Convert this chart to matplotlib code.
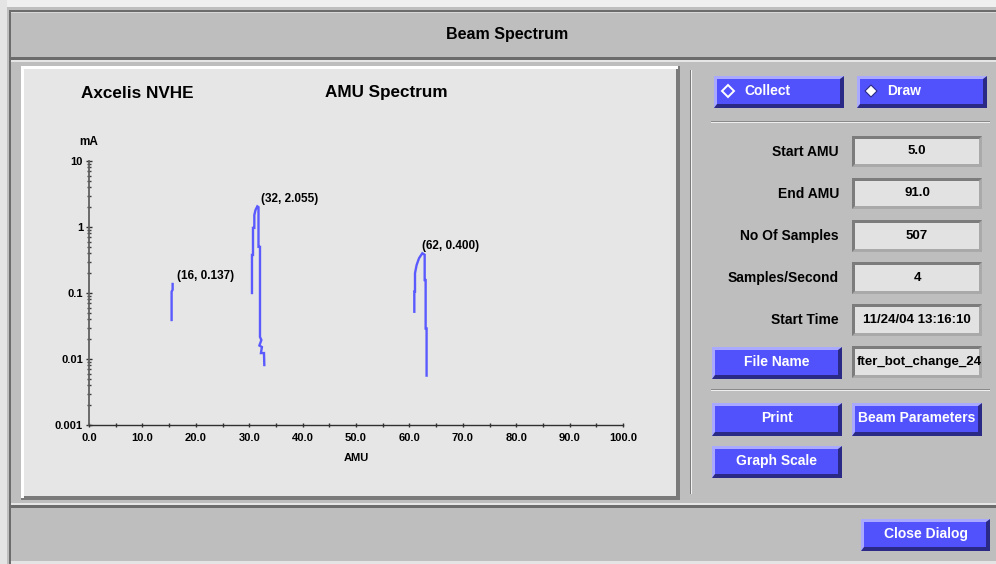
import matplotlib
matplotlib.use("Agg")
import matplotlib.pyplot as plt
from matplotlib.patches import Rectangle, Polygon
from matplotlib.ticker import FixedLocator, FixedFormatter, NullFormatter

plt.rcParams['font.family'] = ['Liberation Sans', 'DejaVu Sans']
plt.rcParams['font.weight'] = 'bold'

# ---------------- data ----------------
peak16_amu = [15.47, 15.47, 15.66, 15.66]
peak16_ma = [0.039, 0.105, 0.112, 0.137]

peak32_amu = [30.52, 30.52, 30.71, 30.71, 30.96, 30.96, 31.18, 31.52, 31.74, 31.74,
              32.02, 32.02, 32.28, 31.91, 32.38, 32.20, 32.77, 32.83]
peak32_ma = [0.100, 0.377, 0.377, 0.970, 0.970, 1.52, 1.81, 2.055, 2.00, 0.50,
             0.50, 0.0216, 0.0194, 0.0160, 0.0152, 0.0123, 0.0123, 0.0081]

peak62_amu = [60.92, 60.92, 61.05, 61.05, 61.35, 61.80, 62.42, 62.86, 62.86, 63.04, 63.04, 63.22, 63.22]
peak62_ma = [0.052, 0.105, 0.105, 0.200, 0.265, 0.336, 0.400, 0.380, 0.157, 0.157, 0.029, 0.029, 0.0056]

peak_labels = ["(16, 0.137)", "(32, 2.055)", "(62, 0.400)"]
peak_label_pos = [(15.66, 0.137), (31.52, 2.055), (62.42, 0.400)]
peak_label_dx = [3, 3, 0]

x_ticks = [0, 10, 20, 30, 40, 50, 60, 70, 80, 90, 100]
x_tick_labels = ["0.0", "10.0", "20.0", "30.0", "40.0", "50.0", "60.0", "70.0", "80.0", "90.0", "100.0"]
y_ticks = [0.001, 0.01, 0.1, 1, 10]
y_tick_labels = ["0.001", "0.01", "0.1", "1", "10"]

field_labels = ["Start AMU", "End AMU", "No Of Samples", "Samples/Second", "Start Time"]
field_values = ["5.0", "91.0", "507", "4", "11/24/04 13:16:10"]
file_name_value = "fter_bot_change_24"

# ---------------- figure ----------------
W, H = 996, 564
fig = plt.figure(figsize=(W / 100, H / 100), dpi=100, facecolor='#bebebe')
bg = fig.add_axes([0, 0, 1, 1], zorder=0)
bg.set_xlim(0, W)
bg.set_ylim(H, 0)
bg.axis('off')


def rect(x0, y0, x1, y1, color, z=1):
    r = Rectangle((x0, y0), x1 - x0, y1 - y0, facecolor=color, edgecolor='none', zorder=z)
    bg.add_patch(r)
    return r


def bevel(x0, y0, x1, y1, tl, br, fill, b=3, bb=None, z=2):
    bb = b if bb is None else bb
    rect(x0, y0, x1, y1, br, z)
    bg.add_patch(Polygon([(x0, y1), (x0, y0), (x1, y0), (x1 - bb, y0 + b),
                          (x0 + b, y0 + b), (x0 + b, y1 - bb)],
                         closed=True, facecolor=tl, edgecolor='none', zorder=z + 0.1))
    return rect(x0 + b, y0 + b, x1 - bb, y1 - bb, fill, z + 0.2)


def button(x0, y0, x1, y1, label, ha='center', tx=None):
    bevel(x0, y0, x1, y1, '#a9a9ff', '#2a2a86', '#5252fc', b=3, bb=4)
    if tx is None:
        tx = (x0 + x1) / 2
    bg.text(tx, (y0 + y1) / 2 - 1, label, color='white', fontsize=10, fontweight='bold',
            ha=ha, va='center', zorder=5)


def field(x0, y0, x1, y1, value, ha='center'):
    inner = bevel(x0, y0, x1, y1, '#7c7c7c', '#a9a9a9', '#e2e2e2', b=3)
    tx = (x0 + x1) / 2 if ha == 'center' else x0 + 5
    t = bg.text(tx, (y0 + y1) / 2, value, color='black', fontsize=9.5, fontweight='bold',
                ha=ha, va='center', zorder=5)
    t.set_clip_path(inner)


# outer frame
rect(0, 0, W, 7, '#efefef')
rect(0, 0, 7, H, '#e4e4e4')
rect(9, 10, W, 12, '#6c6c6c')
rect(9, 10, 11, H, '#6c6c6c')
rect(11, 12, W, 13, '#d8d8d8')
# title separator
rect(11, 57, W, 60, '#6c6c6c')
rect(11, 60, W, 62, '#e6e6e6')
bg.text(507, 35, "Beam Spectrum", fontsize=11.5, fontweight='bold', ha='center', va='center')

# plot panel
rect(21, 66, 680, 500, '#7a7a7a')
rect(21, 66, 678, 69, '#ffffff')
rect(21, 66, 24, 498, '#ffffff')
rect(24, 69, 676, 496, '#e6e6e6')
bg.text(81, 93, "Axcelis NVHE", fontsize=12.3, fontweight='bold', ha='left', va='center', zorder=5)
bg.text(386, 93, "AMU Spectrum", fontsize=12.3, fontweight='bold', ha='center', va='center', zorder=5)

# vertical separator right
rect(690, 70, 691, 494, '#7a7a7a')
rect(691, 70, 692, 494, '#f2f2f2')
# horizontal separators right
for ys in (122, 390):
    rect(711, ys - 1, 990, ys, '#8a8a8a')
    rect(711, ys, 990, ys + 1, '#eeeeee')

# bottom bar separator
rect(11, 503, W, 505, '#e6e6e6')
rect(11, 505, W, 508, '#6c6c6c')
rect(11, 561, W, H, '#e4e4e4')

# buttons
button(714, 76, 844, 108, "Collect", ha='left', tx=744)
button(857, 76, 987, 108, "Draw", ha='left', tx=887)
# diamonds
cx, cy, d = 728, 91, 6
bg.add_patch(Polygon([(cx - d, cy), (cx, cy - d), (cx + d, cy), (cx, cy + d)], closed=True,
                     facecolor='#5252fc', edgecolor='white', lw=1.4, zorder=6))
cx = 871
bg.add_patch(Polygon([(cx - d, cy), (cx, cy - d), (cx + d, cy), (cx, cy + d)], closed=True,
                     facecolor='white', edgecolor='#2a2a86', lw=0.8, zorder=6))

# fields
field_rows = [(136, 167), (178, 209), (220, 252), (262, 294), (304, 336)]
for lab, val, (y0, y1) in zip(field_labels, field_values, field_rows):
    bg.text(839, (y0 + y1) / 2, lab, fontsize=10, fontweight='bold', ha='right', va='center', zorder=5)
    field(852, y0, 982, y1, val)

button(712, 347, 842, 379, "File Name")
field(852, 346, 982, 378, file_name_value, ha='left')
button(712, 403, 842, 436, "Print")
button(852, 403, 982, 436, "Beam Parameters")
button(712, 446, 842, 478, "Graph Scale")
button(861, 519, 990, 551, "Close Dialog")

# ---------------- chart ----------------
x0p, x1p, ytp, ybp = 89, 623, 161, 425
ax = fig.add_axes([x0p / W, 1 - ybp / H, (x1p - x0p) / W, (ybp - ytp) / H], zorder=2)
ax.set_facecolor('none')
ax.set_yscale('log')
ax.set_xlim(0, 100)
ax.set_ylim(0.001, 10)

line_kw = dict(color='#5a5aff', lw=1.7, solid_joinstyle='miter')
ax.plot(peak16_amu, peak16_ma, **line_kw)
ax.plot(peak32_amu, peak32_ma, **line_kw)
ax.plot(peak62_amu, peak62_ma, **line_kw)

for lab, (px, py), dx in zip(peak_labels, peak_label_pos, peak_label_dx):
    ax.annotate(lab, xy=(px, py), xytext=(dx, 5.5), textcoords='offset points',
                fontsize=8.5, fontweight='bold', ha='left', va='center')

for s in ('top', 'right'):
    ax.spines[s].set_visible(False)
ax.spines['left'].set_color('#606060')
ax.spines['left'].set_linewidth(1.3)
ax.spines['bottom'].set_color('#303030')
ax.spines['bottom'].set_linewidth(1.0)

ax.xaxis.set_major_locator(FixedLocator(x_ticks))
ax.xaxis.set_major_formatter(FixedFormatter(x_tick_labels))
ax.xaxis.set_minor_locator(FixedLocator([5, 15, 25, 35, 45, 55, 65, 75, 85, 95]))
ax.yaxis.set_major_locator(FixedLocator(y_ticks))
ax.yaxis.set_major_formatter(FixedFormatter(y_tick_labels))
ax.yaxis.set_minor_locator(matplotlib.ticker.LogLocator(base=10, subs=[2, 3, 4, 5, 6, 7, 8, 9], numticks=20))
ax.yaxis.set_minor_formatter(NullFormatter())

ax.tick_params(axis='x', which='both', direction='inout', length=3.2, width=1, color='#303030',
               labelsize=8, pad=4)
ax.tick_params(axis='y', which='major', direction='inout', length=3.8, width=1, color='#303030',
               labelsize=8, pad=2.5)
ax.tick_params(axis='y', which='minor', direction='inout', length=2.4, width=1, color='#404040')
for t in ax.get_xticklabels() + ax.get_yticklabels():
    t.set_fontweight('bold')

ax.set_xlabel("AMU", fontsize=8, fontweight='bold', labelpad=7.5)
ax.annotate("mA", xy=(0, 1), xycoords='axes fraction', xytext=(0, 13.5), textcoords='offset points',
            fontsize=8.5, fontweight='bold', ha='center', va='center')

fig.savefig("out.png", dpi=100, facecolor=fig.get_facecolor())
